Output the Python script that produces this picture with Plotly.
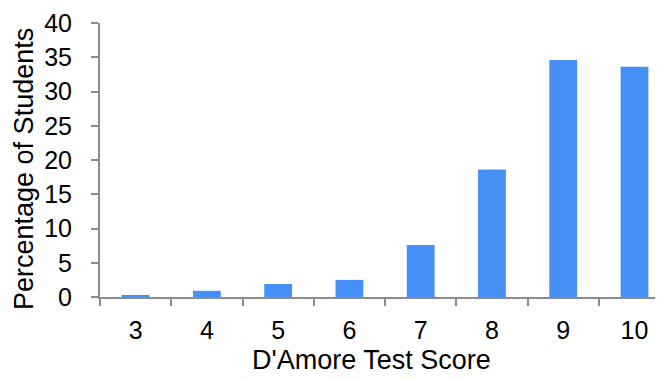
import plotly.graph_objects as go

scores = ["3", "4", "5", "6", "7", "8", "9", "10"]
percentages = [0.3, 0.9, 1.9, 2.5, 7.6, 18.6, 34.6, 33.6]
y_ticks = [0, 5, 10, 15, 20, 25, 30, 35, 40]
x_title = "D'Amore Test Score"
y_title = "Percentage of Students"

fig = go.Figure(go.Bar(
    x=scores, y=percentages,
    marker=dict(color="#468FF7", line=dict(width=0)),
    width=0.39,
))

fam = "Liberation Sans, Arial, sans-serif"
tick_font = dict(family=fam, size=25, color="#000000")
title_font = dict(family=fam, size=27, color="#000000")
axis_col = "#8C8C8C"

# page body has an 8px margin; figure sized so it ends at the window edge
fig.update_layout(
    width=655, height=372,
    margin=dict(l=92, r=0, t=15, b=83),
    paper_bgcolor="white", plot_bgcolor="white",
    font=tick_font,
    showlegend=False,
    xaxis=dict(
        type="category", range=[-0.5, 7.4], automargin=False,
        showline=True, linecolor=axis_col, linewidth=2,
        ticks="outside", tickson="boundaries", ticklen=7, tickwidth=2, tickcolor=axis_col,
        ticklabelstandoff=10,
        showgrid=False, zeroline=False,
        tickfont=tick_font,
    ),
    yaxis=dict(
        range=[0, 40], tickvals=y_ticks, automargin=False,
        showline=True, linecolor=axis_col, linewidth=2,
        ticks="outside", ticklen=7, tickwidth=2, tickcolor=axis_col,
        ticklabelstandoff=14,
        showgrid=False, zeroline=False,
        tickfont=tick_font,
    ),
    annotations=[
        dict(text=x_title, xref="paper", yref="paper", x=0.5, y=0,
             xanchor="center", yanchor="middle", xshift=-10, yshift=-63,
             showarrow=False, font=title_font),
        dict(text=y_title, xref="paper", yref="paper", x=0, y=0.5,
             xanchor="center", yanchor="middle", xshift=-76, yshift=-9,
             textangle=-90, showarrow=False, font=title_font),
    ],
)

fig.write_html("out.html")
